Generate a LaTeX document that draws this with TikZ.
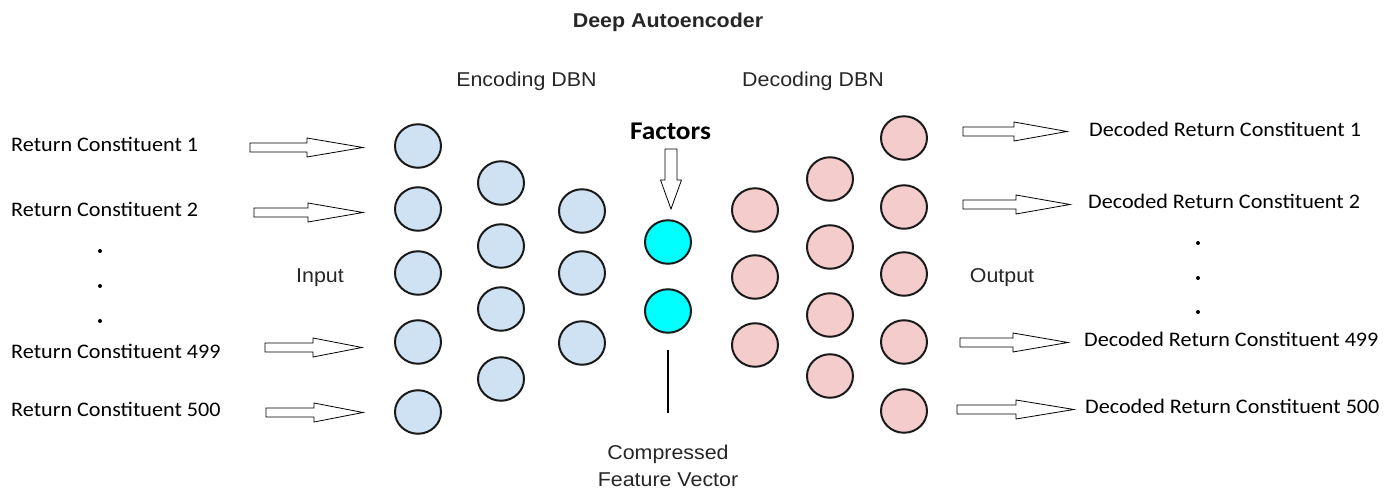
\documentclass[tikz,border=0pt]{standalone}
\usepackage{fontspec}
\usetikzlibrary{shapes.geometric}
\newfontfamily\arialf[FakeStretch=1.07]{Liberation Sans}
\newfontfamily\calf[FakeStretch=1.07]{Carlito}
\definecolor{nblue}{HTML}{CFE2F3}
\definecolor{npink}{HTML}{F4CCCC}
\definecolor{ncyan}{HTML}{00FFFF}
\definecolor{ntext}{HTML}{262626}
\definecolor{nedge}{HTML}{1A1A1A}
% horizontal block arrow: start x, head-base x, tip x, y, name of tip
\newcommand{\harrow}[5]{%
  \coordinate (#5) at (#3,#4);
  \draw[barrow] (#1,#4-4.5) -- (#2,#4-4.5) -- (#2,#4-9.5) -- (#5) -- (#2,#4+9.5) -- (#2,#4+4.5) -- (#1,#4+4.5) -- cycle;}
\begin{document}
\begin{tikzpicture}[x=1pt,y=-1pt,
  neuron/.style={ellipse, draw=nedge, line width=2pt, minimum width=46, minimum height=43.5, inner sep=0},
  enc/.style={neuron, fill=nblue},
  dec/.style={neuron, fill=npink},
  code/.style={neuron, fill=ncyan},
  cal/.style={inner sep=0, anchor=base west, font=\calf\fontsize{20.7}{24}\selectfont},
  ari/.style={inner sep=0, anchor=base, text=ntext, font=\arialf\fontsize{20}{24}\selectfont},
  dotn/.style={circle, fill=black, inner sep=0, minimum size=4},
  barrow/.style={draw=black, line width=0.8pt, fill=white, line join=miter}]
\useasboundingbox (0,0) rectangle (1393,502);

% titles
\node[ari, font=\arialf\bfseries\fontsize{20}{24}\selectfont] (title) at (668,28) {Deep Autoencoder};
\node[ari] (encl) at (526.5,87) {Encoding DBN};
\node[ari] (decl) at (813,87) {Decoding DBN};
\node[ari] (inl) at (320,283) {Input};
\node[ari] (outl) at (1002,283) {Output};
\node[ari] (comp1) at (668,460) {Compressed};
\node[ari] (comp2) at (668,486) {Feature Vector};
\node[inner sep=0, anchor=base, font=\calf\bfseries\fontsize{25.5}{28}\selectfont] (fact) at (670.5,140) {Factors};

% left labels
\node[cal] (l1) at (11,152) {Return Constituent 1};
\node[cal] (l2) at (11,217) {Return Constituent 2};
\node[cal] (l499) at (11,359) {Return Constituent 499};
\node[cal] (l500) at (11,417) {Return Constituent 500};
\node[dotn] (ld1) at (100,251) {};
\node[dotn] (ld2) at (100,286) {};
\node[dotn] (ld3) at (100,321) {};

% right labels
\node[cal] (r1) at (1089,137) {Decoded Return Constituent 1};
\node[cal] (r2) at (1088,209) {Decoded Return Constituent 2};
\node[cal] (r499) at (1084,347) {Decoded Return Constituent 499};
\node[cal] (r500) at (1085,414) {Decoded Return Constituent 500};
\node[dotn] (rd1) at (1198,243) {};
\node[dotn] (rd2) at (1198,278) {};
\node[dotn] (rd3) at (1198,312) {};

% encoder
\node[enc] (e11) at (418,146) {};
\node[enc] (e12) at (418,209) {};
\node[enc] (e13) at (418,273) {};
\node[enc] (e14) at (418,342) {};
\node[enc] (e15) at (418,412) {};
\node[enc] (e21) at (501,183) {};
\node[enc] (e22) at (501,246) {};
\node[enc] (e23) at (501,309) {};
\node[enc] (e24) at (501,379) {};
\node[enc] (e31) at (582,211) {};
\node[enc] (e32) at (582,273) {};
\node[enc] (e33) at (582,343) {};

% code layer
\node[code] (c1) at (668,242) {};
\node[code] (c2) at (668,311) {};

% decoder
\node[dec] (d11) at (755,210) {};
\node[dec] (d12) at (755,277) {};
\node[dec] (d13) at (755,345) {};
\node[dec] (d21) at (830,179) {};
\node[dec] (d22) at (830,247) {};
\node[dec] (d23) at (830,315) {};
\node[dec] (d24) at (830,376) {};
\node[dec] (d31) at (904,138) {};
\node[dec] (d32) at (904,207) {};
\node[dec] (d33) at (904,274) {};
\node[dec] (d34) at (904,342) {};
\node[dec] (d35) at (904,411) {};

% input arrows
\harrow{250}{307}{363}{147.5}{ia1}
\harrow{254}{308}{363}{212.5}{ia2}
\harrow{265}{313}{362}{347.5}{ia3}
\harrow{266}{314}{363}{412.5}{ia4}
% output arrows
\harrow{963}{1014}{1067}{131.5}{oa1}
\harrow{963}{1016}{1070}{204.5}{oa2}
\harrow{960}{1013}{1068}{342.5}{oa3}
\harrow{957}{1016}{1074}{409.5}{oa4}

% factors arrow
\coordinate (ftip) at (671,209);
\draw[barrow] (665,149) -- (677,149) -- (677,180) -- (681.5,180) -- (ftip) -- (660.5,180) -- (665,180) -- cycle;

% compressed feature vector line
\coordinate (cvtop) at (668,350);
\coordinate (cvbot) at (668,413);
\draw[line width=2pt, draw=black] (cvtop) -- (cvbot);
\end{tikzpicture}
\end{document}
